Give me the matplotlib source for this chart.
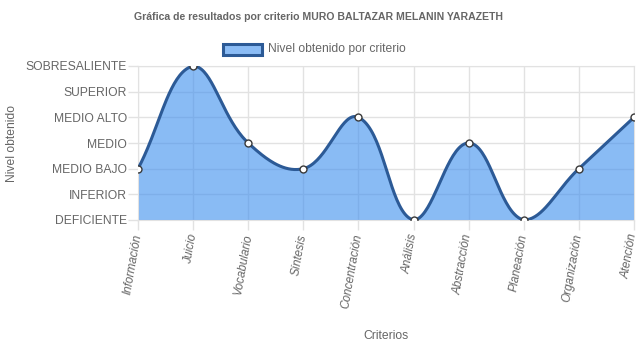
import numpy as np
import matplotlib.pyplot as plt
from matplotlib.patches import Rectangle

plt.rcParams['font.family'] = ['Liberation Sans', 'DejaVu Sans']

criterios = ['Información', 'Juicio', 'Vocabulario', 'Síntesis', 'Concentración',
             'Análisis', 'Abstracción', 'Planeación', 'Organización', 'Atención']
niveles = [2, 6, 3, 2, 4, 0, 3, 0, 2, 4]
etiquetas = ['DEFICIENTE', 'INFERIOR', 'MEDIO BAJO', 'MEDIO', 'MEDIO ALTO',
             'SUPERIOR', 'SOBRESALIENTE']

W, H = 637, 348
fig = plt.figure(figsize=(W / 100, H / 100), dpi=100)
ax = fig.add_axes([138 / W, 1 - 220 / H, (634 - 138) / W, (220 - 66) / H])

# chart.js style bezier (tension 0.4), computed in pixel units
sx = (634 - 138) / (len(criterios) - 1)
sy = (220 - 66) / 6
px = np.arange(len(niveles)) * sx
py = np.array(niveles, dtype=float) * sy
t = 0.4
cp_in, cp_out = [], []
n = len(px)
for i in range(n):
    prev = (px[max(i - 1, 0)], py[max(i - 1, 0)])
    cur = (px[i], py[i])
    nxt = (px[min(i + 1, n - 1)], py[min(i + 1, n - 1)])
    d01 = np.hypot(cur[0] - prev[0], cur[1] - prev[1])
    d12 = np.hypot(nxt[0] - cur[0], nxt[1] - cur[1])
    s01 = d01 / (d01 + d12) if d01 + d12 else 0
    s12 = d12 / (d01 + d12) if d01 + d12 else 0
    fa, fb = t * s01, t * s12
    a = [cur[0] - fa * (nxt[0] - prev[0]), cur[1] - fa * (nxt[1] - prev[1])]
    b = [cur[0] + fb * (nxt[0] - prev[0]), cur[1] + fb * (nxt[1] - prev[1])]
    for c in (a, b):
        c[0] = min(max(c[0], 0), px[-1])
        c[1] = min(max(c[1], 0), 6 * sy)
    cp_in.append(a)
    cp_out.append(b)

xs, ys = [], []
u = np.linspace(0, 1, 40)
for i in range(n - 1):
    p0 = np.array([px[i], py[i]])
    p1 = np.array(cp_out[i])
    p2 = np.array(cp_in[i + 1])
    p3 = np.array([px[i + 1], py[i + 1]])
    seg = ((1 - u) ** 3)[:, None] * p0 + (3 * (1 - u) ** 2 * u)[:, None] * p1 \
        + (3 * (1 - u) * u ** 2)[:, None] * p2 + (u ** 3)[:, None] * p3
    xs.extend(seg[:, 0] / sx)
    ys.extend(seg[:, 1] / sy)

grid = '#e2e2e2'
ax.set_axisbelow(True)
ax.grid(True, color=grid, linewidth=1)
ax.fill_between(xs, ys, 0, color=(59 / 255, 142 / 255, 238 / 255), alpha=0.6, linewidth=0, zorder=2)
ax.plot(xs, ys, color='#2c5a96', linewidth=2.2, zorder=3)
ax.plot(range(n), niveles, 'o', markersize=5, markerfacecolor='white',
        markeredgecolor='#3a3a3a', markeredgewidth=1, zorder=4)

ax.set_xlim(0, n - 1)
ax.set_ylim(0, 6)
ax.set_yticks(range(7))
ax.set_yticklabels(etiquetas)
ax.set_xticks(range(n))
ax.set_xticklabels(criterios, rotation=80, ha='right', va='center',
                   rotation_mode='anchor', style='italic')
ax.tick_params(axis='both', colors=grid, length=7, width=1, labelcolor='#666666',
               labelsize=8.7)
ax.tick_params(axis='y', pad=1)
ax.tick_params(axis='x', pad=3, labelsize=8.5)
for s in ax.spines.values():
    s.set_color(grid)

ax.set_ylabel('Nivel obtenido', color='#666666', fontsize=8.7)
ax.yaxis.set_label_coords(-120 / (634 - 138), 0.5)
fig.text(386 / W, 1 - 336 / H, 'Criterios', color='#666666', fontsize=8.7,
         ha='center', va='center')

fig.text(318 / W, 1 - 17 / H, 'Gráfica de resultados por criterio MURO BALTAZAR MELANIN YARAZETH',
         color='#666666', fontsize=7.6, fontweight='bold', ha='center', va='center')

fig.patches.append(Rectangle((223 / W, 1 - 55 / H), 39 / W, 11 / H, transform=fig.transFigure,
                             facecolor='#8bbcf5', edgecolor='#2c5a96', linewidth=2.2))
fig.text(268 / W, 1 - 49 / H, 'Nivel obtenido por criterio', color='#666666',
         fontsize=8.7, ha='left', va='center')

fig.savefig('out.png', dpi=100)
